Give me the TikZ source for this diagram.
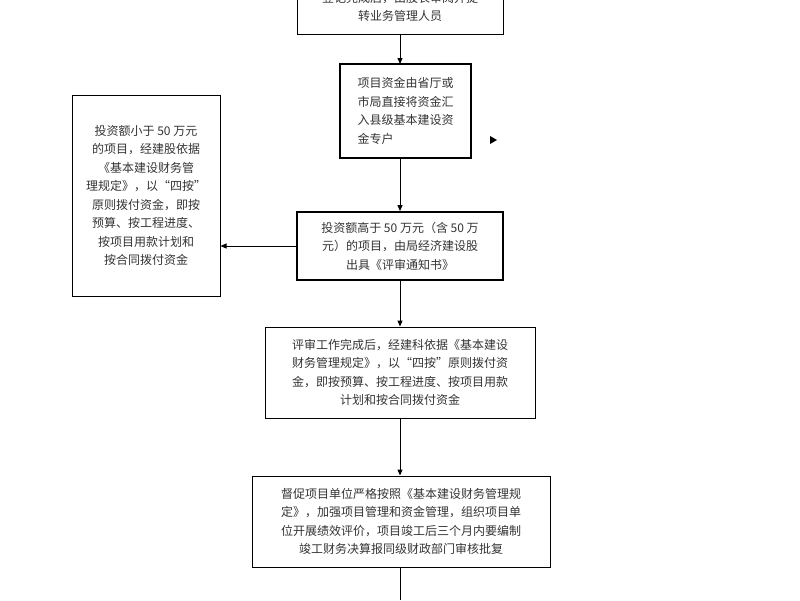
\documentclass[tikz,border=0pt]{standalone}
\usepackage{fontspec}
\setmainfont{Liberation Serif}
\newfontfamily\cjk{Noto Sans CJK SC}
\usetikzlibrary{arrows.meta}
\begin{document}
\begin{tikzpicture}[x=1pt,y=-1pt,
  box/.style={draw,line width=1pt,inner sep=0pt,align=center,font=\cjk\fontsize{12}{18.5}\selectfont,text=black!80},
  thick box/.style={box,line width=1.8pt},
  arr/.style={-{Triangle[length=6pt,width=5pt]},line width=1pt}]
\useasboundingbox (0,0) rectangle (800,600);
\clip (0,0) rectangle (800,600);
\node[box,minimum width=206,minimum height=54] (b1) at (400,7) {登记完成后，由股长审阅并提\\转业务管理人员};
\node[thick box,minimum width=131,minimum height=94,align=left] (b2) at (405.5,111) {项目资金由省厅或\\市局直接将资金汇\\入县级基本建设资\\金专户};
\node[box,minimum width=148,minimum height=201] (b0) at (146,195.5) {投资额小于 50 万元\\的项目，经建股依据\\《基本建设财务管\\理规定》，以“四按”\\原则拨付资金，即按\\预算、按工程进度、\\按项目用款计划和\\按合同拨付资金};
\node[thick box,minimum width=206,minimum height=68] (b3) at (400,246) {投资额高于 50 万元（含 50 万\\元）的项目，由局经济建设股\\出具《评审通知书》};
\node[box,minimum width=270,minimum height=91] (b4) at (400,372.5) {评审工作完成后，经建科依据《基本建设\\财务管理规定》，以“四按”原则拨付资\\金，即按预算、按工程进度、按项目用款\\计划和按合同拨付资金};
\node[box,minimum width=298,minimum height=91] (b5) at (401,521.5) {督促项目单位严格按照《基本建设财务管理规\\定》，加强项目管理和资金管理，组织项目单\\位开展绩效评价，项目竣工后三个月内要编制\\竣工财务决算报同级财政部门审核批复};
\coordinate (e) at (400,600);
\coordinate (t) at (497,140);
\draw[arr] (b1.south -| 400,0) -- (400,64);
\draw[arr] (400,158) -- (b3.north);
\draw[arr] (b3.west) -- (b0.east |- b3.west);
\draw[arr] (b3.south) -- (b4.north);
\draw[arr] (b4.south) -- (b5.north -| 400,0);
\draw[line width=1pt] (b5.south -| 400,0) -- (e);
\fill (t) -- ++(-7,-4) -- ++(0,8) -- cycle;
\end{tikzpicture}
\end{document}
